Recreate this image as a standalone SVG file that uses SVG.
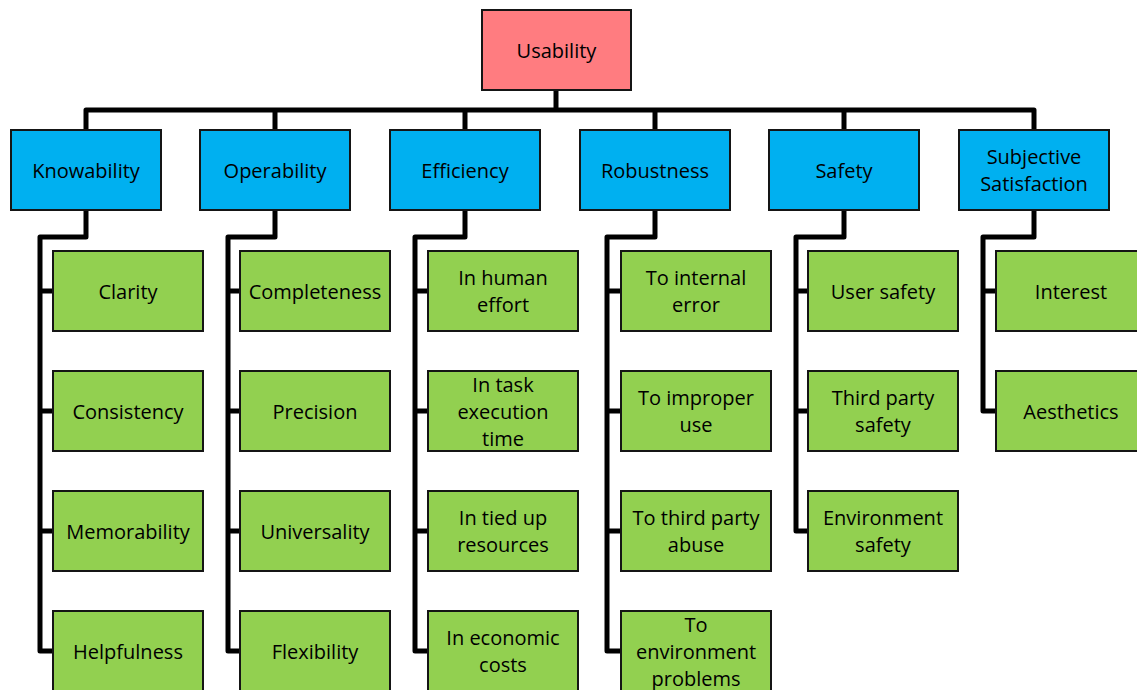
<svg xmlns="http://www.w3.org/2000/svg" width="1137" height="690" viewBox="0 0 1137 690">
<style>
.box{stroke:#151515;stroke-width:2}
.root{fill:#FF7C80}
.cat{fill:#00B0F0}
.leaf{fill:#92D050}
.c{fill:none;stroke:#000;stroke-width:5;stroke-linejoin:round;stroke-linecap:butt}
text{font-family:"Open Sans","Noto Sans",sans-serif;font-size:20px;fill:#000;text-anchor:middle}
</style>
<rect width="1137" height="690" fill="#fff"/>
<g id="connectors">
<path class="c" d="M556,90 V110"/>
<path class="c" d="M86,130 V110 H1034 V130"/>
<path class="c" d="M275,110 V130 M465,110 V130 M655,110 V130 M844,110 V130"/>
<path class="c" d="M86,210 V237 H40 V651 H53 M40,291 H53 M40,411 H53 M40,531 H53"/>
<path class="c" d="M275,210 V237 H228 V651 H240 M228,291 H240 M228,411 H240 M228,531 H240"/>
<path class="c" d="M465,210 V237 H415 V651 H428 M415,291 H428 M415,411 H428 M415,531 H428"/>
<path class="c" d="M655,210 V237 H607 V651 H621 M607,291 H621 M607,411 H621 M607,531 H621"/>
<path class="c" d="M844,210 V237 H796 V531 H808 M796,291 H808 M796,411 H808"/>
<path class="c" d="M1034,210 V237 H983 V411 H996 M983,291 H996"/>
</g>
<g id="usability"><rect class="box root" x="482" y="10" width="149" height="80"/><text x="556.5" y="57.5">Usability</text></g>
<g id="knowability"><rect class="box cat" x="11" y="130" width="150" height="80"/><text x="86" y="177.5">Knowability</text></g>
<g id="operability"><rect class="box cat" x="200" y="130" width="150" height="80"/><text x="275" y="177.5">Operability</text></g>
<g id="efficiency"><rect class="box cat" x="390" y="130" width="150" height="80"/><text x="465" y="177.5">Efficiency</text></g>
<g id="robustness"><rect class="box cat" x="580" y="130" width="150" height="80"/><text x="655" y="177.5">Robustness</text></g>
<g id="safety"><rect class="box cat" x="769" y="130" width="150" height="80"/><text x="844" y="177.5">Safety</text></g>
<g id="subjective-satisfaction"><rect class="box cat" x="959" y="130" width="150" height="80"/><text x="1034" y="164">Subjective</text><text x="1034" y="191">Satisfaction</text></g>

<g id="clarity"><rect class="box leaf" x="53" y="251" width="150" height="80"/><text x="128" y="298.5">Clarity</text></g>
<g id="consistency"><rect class="box leaf" x="53" y="371" width="150" height="80"/><text x="128" y="418.5">Consistency</text></g>
<g id="memorability"><rect class="box leaf" x="53" y="491" width="150" height="80"/><text x="128" y="538.5">Memorability</text></g>
<g id="helpfulness"><rect class="box leaf" x="53" y="611" width="150" height="80"/><text x="128" y="658.5">Helpfulness</text></g>

<g id="completeness"><rect class="box leaf" x="240" y="251" width="150" height="80"/><text x="315" y="298.5">Completeness</text></g>
<g id="precision"><rect class="box leaf" x="240" y="371" width="150" height="80"/><text x="315" y="418.5">Precision</text></g>
<g id="universality"><rect class="box leaf" x="240" y="491" width="150" height="80"/><text x="315" y="538.5">Universality</text></g>
<g id="flexibility"><rect class="box leaf" x="240" y="611" width="150" height="80"/><text x="315" y="658.5">Flexibility</text></g>

<g id="human-effort"><rect class="box leaf" x="428" y="251" width="150" height="80"/><text x="503" y="285">In human</text><text x="503" y="312">effort</text></g>
<g id="task-time"><rect class="box leaf" x="428" y="371" width="150" height="80"/><text x="503" y="391.5">In task</text><text x="503" y="418.5">execution</text><text x="503" y="445.5">time</text></g>
<g id="tied-resources"><rect class="box leaf" x="428" y="491" width="150" height="80"/><text x="503" y="525">In tied up</text><text x="503" y="552">resources</text></g>
<g id="economic-costs"><rect class="box leaf" x="428" y="611" width="150" height="80"/><text x="503" y="645">In economic</text><text x="503" y="672">costs</text></g>

<g id="internal-error"><rect class="box leaf" x="621" y="251" width="150" height="80"/><text x="696" y="285">To internal</text><text x="696" y="312">error</text></g>
<g id="improper-use"><rect class="box leaf" x="621" y="371" width="150" height="80"/><text x="696" y="405">To improper</text><text x="696" y="432">use</text></g>
<g id="third-party-abuse"><rect class="box leaf" x="621" y="491" width="150" height="80"/><text x="696" y="525">To third party</text><text x="696" y="552">abuse</text></g>
<g id="environment-problems"><rect class="box leaf" x="621" y="611" width="150" height="80"/><text x="696" y="631.5">To</text><text x="696" y="658.5">environment</text><text x="696" y="685.5">problems</text></g>

<g id="user-safety"><rect class="box leaf" x="808" y="251" width="150" height="80"/><text x="883" y="298.5">User safety</text></g>
<g id="third-party-safety"><rect class="box leaf" x="808" y="371" width="150" height="80"/><text x="883" y="405">Third party</text><text x="883" y="432">safety</text></g>
<g id="environment-safety"><rect class="box leaf" x="808" y="491" width="150" height="80"/><text x="883" y="525">Environment</text><text x="883" y="552">safety</text></g>

<g id="interest"><rect class="box leaf" x="996" y="251" width="150" height="80"/><text x="1071" y="298.5">Interest</text></g>
<g id="aesthetics"><rect class="box leaf" x="996" y="371" width="150" height="80"/><text x="1071" y="418.5">Aesthetics</text></g>
</svg>
